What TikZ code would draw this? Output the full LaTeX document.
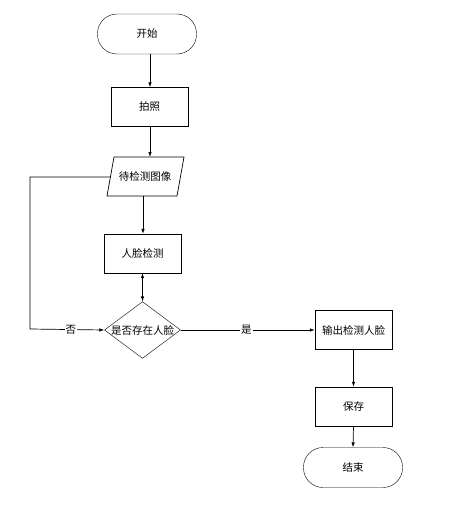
\documentclass[tikz,border=0pt]{standalone}
\usepackage{fontspec}
\setmainfont{Noto Sans CJK SC}
\usetikzlibrary{arrows.meta,shapes.geometric}
\begin{document}
\begin{tikzpicture}[x=1pt,y=-1pt,
  every node/.style={font=\fontsize{10.5}{12}\selectfont},
  term/.style={draw,rounded corners=19.5pt,minimum width=99pt,minimum height=40pt,inner sep=0pt},
  proc/.style={draw,minimum width=77pt,minimum height=39pt,inner sep=0pt},
  dec/.style={draw,diamond,minimum width=75pt,minimum height=56pt,inner sep=0pt,aspect=1.34},
  arr/.style={-{Latex[length=5pt,width=3.5pt]},line width=0.7pt},
  lab/.style={fill=white,inner sep=1pt}]
\useasboundingbox (0,0) rectangle (448,511);
\node[term] (start) at (147,34) {开始};
\node[proc] (photo) at (149.5,107) {拍照};
\node (img) at (145,176.5) {待检测图像};
\draw[line width=0.7pt] (107,196) -- (114,157) -- (184,157) -- (177,196) -- cycle;
\coordinate (imgtop) at (150,157);
\coordinate (imgbot) at (143,196);
\coordinate (imgleft) at (110.5,177);
\node[proc] (detect) at (142.5,253.5) {人脸检测};
\node[dec] (face) at (142.5,330) {是否存在人脸};
\node[proc] (out) at (353.5,330) {输出检测人脸};
\node[proc] (save) at (353.5,406.5) {保存};
\node[term] (end) at (353,467.5) {结束};
\coordinate (c1) at (30,177);
\coordinate (c2) at (30,329);
\draw[arr] (start.south -| imgtop) -- (photo.north -| imgtop);
\draw[arr] (photo.south -| imgtop) -- (imgtop);
\draw[arr] (imgbot) -- (detect.north -| imgbot);
\draw[{Latex[length=5pt,width=3.5pt]}-{Latex[length=5pt,width=3.5pt]},line width=0.7pt] (detect.south) -- (face.north);
\draw[arr] (imgleft) -- (c1) -- (c2) -- node[lab,pos=0.55]{否} (face.west);
\draw[arr] (face.east) -- node[lab,pos=0.49]{是} (out.west);
\draw[arr] (out.south) -- (save.north);
\draw[arr] (save.south) -- (end.north);
\end{tikzpicture}
\end{document}
